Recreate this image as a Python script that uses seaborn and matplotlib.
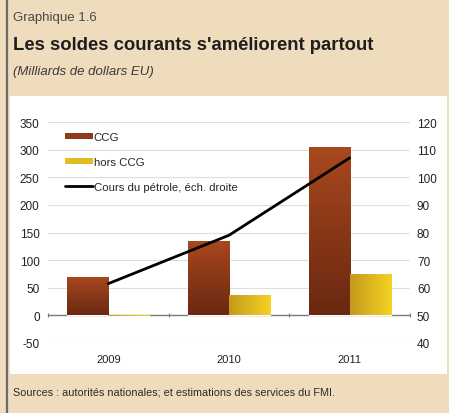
import numpy as np
import pandas as pd
import matplotlib
matplotlib.use("Agg")
import matplotlib.pyplot as plt
from matplotlib.patches import Rectangle, Patch
from matplotlib.lines import Line2D
from matplotlib.colors import LinearSegmentedColormap
import seaborn as sns

# data
years = ["2009", "2010", "2011"]
ccg = [70, 135, 305]
hors_ccg = [-2, 36, 74]
oil_price = [61.5, 79, 107]
series_names = ["CCG", "hors CCG"]
oil_label = "Cours du pétrole, éch. droite"

sns.set_theme(style="white")
plt.rcParams["font.family"] = ["Liberation Sans", "DejaVu Sans"]
plt.rcParams["axes.unicode_minus"] = False

df = pd.DataFrame({
    "year": years * 2,
    "series": [series_names[0]] * 3 + [series_names[1]] * 3,
    "value": ccg + hors_ccg,
})

bg = "#efdcbc"
fig = plt.figure(figsize=(4.49, 4.14), dpi=100, facecolor=bg)

# white panel + left border
fig.patches.append(Rectangle((10 / 449, 39 / 414), 437 / 449, 278 / 414,
                             transform=fig.transFigure, facecolor="white",
                             edgecolor="none", zorder=-5))
fig.add_artist(Line2D([7 / 449, 7 / 449], [0, 1], transform=fig.transFigure,
                      color="#6b6b6b", lw=1.6, zorder=-4))

ax = fig.add_axes([48 / 449, 70 / 414, 362 / 449, 221 / 414])
ax.set_facecolor("none")

pal = {"CCG": "#8e3a18", "hors CCG": "#e2bd22"}
sns.barplot(data=df, x="year", y="value", hue="series", palette=pal,
            width=0.68, ax=ax, legend=False, zorder=3, saturation=1)

ax.set_ylim(-50, 350)
ax.set_xlim(-0.5, 2.5)
ax.set_yticks(range(-50, 351, 50))
ax.set_xlabel("")
ax.set_ylabel("")

# gradient fills on the bars
cmap_ccg = LinearSegmentedColormap.from_list("ccg", ["#6a2810", "#a8481e"])
cmap_hors = LinearSegmentedColormap.from_list("hors", ["#c49a1c", "#f5d224"])
bars = [p for p in ax.patches if isinstance(p, Rectangle)]
for i, p in enumerate(bars):
    x0, y0 = p.get_x(), p.get_y()
    w, h = p.get_width(), p.get_height()
    if i < len(years):
        grad = np.linspace(0, 1, 100).reshape(-1, 1)
        cm = cmap_ccg
    else:
        grad = np.linspace(0, 1, 100).reshape(1, -1)
        cm = cmap_hors
    ylo, yhi = min(y0, y0 + h), max(y0, y0 + h)
    im = ax.imshow(grad, cmap=cm, extent=[x0, x0 + w, ylo, yhi],
                   origin="lower", aspect="auto", zorder=3)
    im.set_clip_path(p)
    p.set_facecolor("none")
ax.set_ylim(-50, 350)
ax.set_xlim(-0.5, 2.5)

# grid and zero axis
for v in range(-50, 351, 50):
    if v != 0:
        ax.axhline(v, color="#dedede", lw=0.8, zorder=1)
ax.spines["bottom"].set_position(("data", 0))
ax.spines["bottom"].set_color("#7a7a7a")
ax.spines["bottom"].set_linewidth(1.0)
ax.spines["bottom"].set_zorder(2)
for s in ["top", "left", "right"]:
    ax.spines[s].set_visible(False)
ax.set_xticks([-0.5, 0.5, 1.5, 2.5], minor=True)
ax.tick_params(axis="x", which="major", length=0, pad=28, labelsize=8,
               labelcolor="#222222")
ax.tick_params(axis="x", which="minor", length=3, direction="inout",
               color="#7a7a7a", width=0.8, bottom=True)
ax.tick_params(axis="y", length=0, pad=6, labelsize=8.5, labelcolor="#222222")

# oil price on right axis
ax2 = ax.twinx()
sns.lineplot(x=list(range(len(years))), y=oil_price, ax=ax2, color="black",
             lw=2, zorder=5)
ax2.set_ylim(40, 120)
ax2.set_xlim(-0.5, 2.5)
ax2.set_yticks(range(40, 121, 10))
ax2.tick_params(axis="y", length=0, pad=5, labelsize=8.5, labelcolor="#222222")
for s in ax2.spines.values():
    s.set_visible(False)

handles = [
    Patch(facecolor="#8e3a18", edgecolor="none", label=series_names[0]),
    Patch(facecolor="#e2bd22", edgecolor="none", label=series_names[1]),
    Line2D([0], [0], color="black", lw=2, label=oil_label),
]
leg = ax2.legend(handles=handles, loc="upper left", bbox_to_anchor=(0.035, 0.975),
                 frameon=False, fontsize=8.2, handlelength=2.4, handleheight=0.45,
                 handletextpad=0.1, labelspacing=1.3, borderaxespad=0)

# header and footer texts
fig.text(13 / 449, 1 - 18 / 414, "Graphique 1.6", fontsize=9.5, color="#4a4a4a",
         va="center", ha="left")
fig.text(13 / 449, 1 - 46 / 414, "Les soldes courants s'améliorent partout",
         fontsize=13.3, fontweight="bold", color="#1e1e1e", va="center", ha="left")
fig.text(13 / 449, 1 - 72 / 414, "(Milliards de dollars EU)", fontsize=9.5,
         style="italic", color="#3a3a3a", va="center", ha="left")
fig.text(13 / 449, 1 - 393 / 414,
         "Sources : autorités nationales; et estimations des services du FMI.",
         fontsize=7.8, color="#2a2a2a", va="center", ha="left")

fig.savefig("out.png", dpi=100, facecolor=bg)
